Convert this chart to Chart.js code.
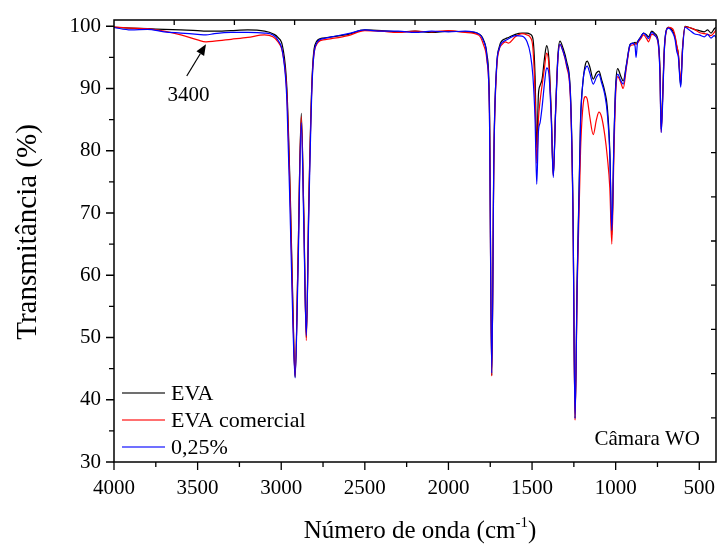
<!DOCTYPE html>
<html>
<head>
<meta charset="utf-8">
<script src="https://cdn.jsdelivr.net/npm/chart.js@4.4.1/dist/chart.umd.min.js"></script>
<style>
  html, body { margin: 0; padding: 0; background: #ffffff; }
  #wrap { width: 718px; height: 549px; }
</style>
</head>
<body>
<div id="wrap"><canvas id="c" width="718" height="549"></canvas></div>
<script>
// FTIR spectra: wavenumber (cm-1) and transmittance (%) for each sample
const wavenumbers = [
  4000, 3900, 3800, 3700, 3600, 3500, 3450, 3400, 3300, 3200, 3100, 3050, 3020, 2990, 2966,
  2945, 2930, 2917, 2900, 2880, 2865, 2850, 2835, 2815, 2790, 2750, 2700, 2600, 2500, 2400,
  2300, 2200, 2100, 2000, 1900, 1820, 1790, 1770, 1755, 1741, 1728, 1712, 1695, 1682, 1660,
  1640, 1600, 1560, 1530, 1510, 1495, 1482, 1472, 1462, 1452, 1440, 1425, 1413, 1400, 1385,
  1373, 1360, 1345, 1333, 1315, 1293, 1270, 1255, 1243, 1230, 1210, 1194, 1180, 1170, 1155,
  1134, 1115, 1100, 1085, 1065, 1050, 1035, 1023, 1010, 1000, 988, 970, 955, 935, 914,
  895, 884, 878, 870, 850, 834, 815, 804, 784, 765, 745, 735, 728, 720, 710,
  700, 685, 660, 645, 635, 625, 611, 600, 585, 560, 530, 500, 470, 450, 430,
  410, 400
];

const evaT = [
  99.8, 99.7, 99.6, 99.5, 99.4, 99.3, 99.2, 99.2, 99.3, 99.4, 99.2, 98.8, 98.2, 96.5, 90.0,
  72.0, 55.0, 43.6, 62.0, 86.0, 70.0, 50.0, 72.0, 92.0, 97.5, 98.1, 98.3, 98.7, 99.4, 99.3,
  99.1, 99.2, 99.0, 99.2, 99.1, 98.8, 97.8, 95.5, 88.0, 43.9, 80.0, 93.5, 96.8, 97.6, 98.0,
  98.2, 98.7, 98.9, 98.9, 98.7, 98.0, 92.0, 80.5, 89.0, 90.5, 91.5, 95.0, 96.9, 95.0, 86.0,
  76.0, 86.0, 95.5, 97.6, 96.5, 94.3, 89.0, 70.0, 37.0, 60.0, 85.0, 91.5, 94.0, 94.4, 93.5,
  91.5, 92.5, 92.8, 91.5, 89.5, 87.0, 80.0, 66.5, 82.0, 90.5, 93.2, 92.0, 91.2, 94.0, 97.1,
  97.3, 97.4, 97.2, 97.5, 98.3, 98.9, 98.6, 98.3, 99.2, 98.8, 97.5, 93.0, 83.5, 88.0, 96.0,
  99.0, 99.8, 99.3, 98.2, 96.8, 95.5, 90.5, 96.5, 100.0, 99.8, 99.5, 99.3, 99.1, 99.4, 98.9,
  99.6, 99.8
];

const evaComercialT = [
  99.9, 99.7, 99.6, 99.2, 98.6, 97.8, 97.5, 97.6, 97.9, 98.2, 98.6, 98.3, 97.5, 95.5, 89.0,
  71.0, 54.0, 43.8, 62.0, 85.5, 69.5, 49.5, 71.5, 91.5, 97.0, 97.8, 98.0, 98.5, 99.3, 99.2,
  99.0, 99.2, 99.1, 99.3, 99.0, 98.6, 97.0, 94.5, 86.5, 43.8, 79.0, 93.0, 96.4, 97.0, 97.5,
  97.3, 98.3, 98.8, 98.6, 98.2, 96.5, 89.0, 78.0, 85.0, 88.0, 90.5, 93.5, 95.7, 94.0, 85.5,
  76.0, 85.5, 95.0, 97.1, 96.0, 93.5, 88.0, 69.0, 36.7, 58.0, 80.0, 87.5, 88.7, 88.3, 85.5,
  82.6, 85.0, 86.2, 85.5, 82.5, 79.0, 74.0, 65.0, 80.0, 89.0, 91.9, 91.0, 90.0, 93.5, 96.8,
  97.0, 97.2, 97.1, 97.3, 98.0, 98.6, 98.0, 97.5, 98.7, 98.5, 97.0, 92.5, 83.0, 87.5, 95.5,
  98.8, 99.8, 99.6, 98.5, 97.0, 95.5, 91.3, 96.5, 99.9, 99.8, 99.5, 99.0, 98.8, 98.7, 98.5,
  99.0, 99.4
];

const pct025T = [
  99.8, 99.4, 99.5, 99.1, 98.9, 98.7, 98.6, 98.8, 99.0, 99.0, 98.9, 98.6, 97.8, 95.5, 88.0,
  68.0, 52.0, 43.5, 60.0, 84.5, 68.0, 50.3, 70.0, 91.0, 97.2, 98.0, 98.3, 98.8, 99.4, 99.2,
  99.2, 99.0, 99.2, 99.1, 99.2, 98.8, 97.6, 95.0, 86.0, 44.3, 79.5, 93.5, 96.5, 97.3, 97.7,
  98.0, 98.5, 98.4, 97.5, 95.5, 92.0, 85.0, 74.6, 83.0, 84.5, 87.0, 91.0, 93.3, 92.5, 85.0,
  75.7, 85.5, 95.0, 97.1, 96.0, 93.8, 88.5, 69.5, 37.0, 59.0, 84.5, 91.5, 93.3, 93.6, 92.5,
  90.7, 91.8, 92.3, 91.0, 89.0, 86.0, 79.5, 67.2, 82.0, 90.0, 92.3, 91.3, 90.7, 93.8, 97.0,
  97.3, 96.8, 95.0, 97.2, 98.2, 98.9, 98.4, 98.0, 99.0, 98.5, 97.2, 92.0, 82.9, 87.0, 95.5,
  99.0, 99.7, 99.0, 97.9, 96.0, 95.0, 90.2, 96.0, 99.8, 99.4, 98.8, 98.6, 98.3, 98.7, 98.1,
  98.5, 98.2
];

const seriesLabels = ['EVA', 'EVA comercial', '0,25%'];
const seriesColors = ['#000000', '#ff0000', '#0000ff'];

const xTickValues = [4000, 3500, 3000, 2500, 2000, 1500, 1000, 500];
const yTickValues = [30, 40, 50, 60, 70, 80, 90, 100];

const xAxisTitle = 'Número de onda (cm';
const xAxisTitleSup = '-1';
const yAxisTitle = 'Transmitância (%)';
const peakLabel = '3400';
const cornerNote = 'Câmara WO';

const FONT = "'Liberation Serif', 'Times New Roman', serif";

function toPoints(ys) {
  return wavenumbers.map((w, i) => ({ x: w, y: ys[i] }));
}

// keep the plotting area at a fixed size: no extra room for edge labels
function noEdgePadding(scale) {
  scale.paddingLeft = 0;
  scale.paddingRight = 0;
  scale.paddingTop = 0;
  scale.paddingBottom = 0;
}

// Frame, tick marks, legend, axis titles and the labelled band
const decor = {
  id: 'decor',
  afterDraw(chart) {
    const ctx = chart.ctx;
    const a = chart.chartArea;
    const xs = chart.scales.x;
    const ys = chart.scales.y;
    ctx.save();

    // box around the plotting area
    ctx.strokeStyle = '#000';
    ctx.lineWidth = 1.5;
    ctx.strokeRect(a.left, a.top, a.right - a.left, a.bottom - a.top);

    // bottom axis: major ticks every 500, minor every 250 (outward)
    ctx.lineWidth = 1.3;
    ctx.beginPath();
    for (let v = 500; v <= 4000; v += 250) {
      const px = xs.getPixelForValue(v);
      const len = v % 500 === 0 ? 8 : 5;
      ctx.moveTo(px, a.bottom);
      ctx.lineTo(px, a.bottom + len);
    }
    // left axis: major ticks every 10, minor every 5 (outward)
    for (let v = 30; v <= 100; v += 5) {
      const py = ys.getPixelForValue(v);
      const len = v % 10 === 0 ? 8 : 5;
      ctx.moveTo(a.left, py);
      ctx.lineTo(a.left - len, py);
    }
    // top and right edges: inward ticks at tenths
    for (let k = 1; k < 10; k++) {
      const px = a.left + (a.right - a.left) * k / 10;
      ctx.moveTo(px, a.top);
      ctx.lineTo(px, a.top + 5);
      const py = a.top + (a.bottom - a.top) * k / 10;
      ctx.moveTo(a.right, py);
      ctx.lineTo(a.right - 5, py);
    }
    ctx.stroke();

    // legend in the lower-left corner of the plot
    ctx.font = '22px ' + FONT;
    ctx.textBaseline = 'middle';
    ctx.textAlign = 'left';
    const rowY = [393, 420, 447];
    chart.data.datasets.forEach((ds, i) => {
      ctx.strokeStyle = ds.borderColor;
      ctx.globalAlpha = 0.75;
      ctx.lineWidth = 1.6;
      ctx.beginPath();
      ctx.moveTo(122, rowY[i]);
      ctx.lineTo(165, rowY[i]);
      ctx.stroke();
      ctx.globalAlpha = 1;
      ctx.fillStyle = '#000';
      ctx.fillText(ds.label, 171, rowY[i] + 1);
    });

    // corner note
    ctx.textAlign = 'right';
    ctx.textBaseline = 'alphabetic';
    ctx.font = '21px ' + FONT;
    ctx.fillText(cornerNote, a.right - 16, a.bottom - 17);

    // O-H band label with arrow
    const tipX = xs.getPixelForValue(3450), tipY = ys.getPixelForValue(97.1);
    const tailX = xs.getPixelForValue(3565), tailY = ys.getPixelForValue(92.0);
    ctx.strokeStyle = '#000';
    ctx.fillStyle = '#000';
    ctx.lineWidth = 1.2;
    const ang = Math.atan2(tipY - tailY, tipX - tailX);
    const headLen = 11, headW = 4.5;
    const baseX = tipX - headLen * Math.cos(ang), baseY = tipY - headLen * Math.sin(ang);
    ctx.beginPath();
    ctx.moveTo(tailX, tailY);
    ctx.lineTo(baseX, baseY);
    ctx.stroke();
    ctx.beginPath();
    ctx.moveTo(tipX, tipY);
    ctx.lineTo(baseX + headW * Math.sin(ang), baseY - headW * Math.cos(ang));
    ctx.lineTo(baseX - headW * Math.sin(ang), baseY + headW * Math.cos(ang));
    ctx.closePath();
    ctx.fill();
    ctx.textAlign = 'center';
    ctx.textBaseline = 'middle';
    ctx.font = '21px ' + FONT;
    ctx.fillText(peakLabel, xs.getPixelForValue(3555), ys.getPixelForValue(88.8));

    // x axis title with superscript
    const titleFont = '25px ' + FONT;
    const supFont = '15px ' + FONT;
    ctx.font = titleFont;
    ctx.textBaseline = 'alphabetic';
    ctx.textAlign = 'left';
    const w1 = ctx.measureText(xAxisTitle).width;
    ctx.font = supFont;
    const w2 = ctx.measureText(xAxisTitleSup).width;
    ctx.font = titleFont;
    const w3 = ctx.measureText(')').width;
    const total = w1 + w2 + w3;
    const sx = (a.left + a.right) / 2 + 5 - total / 2;
    const baseY2 = 538;
    ctx.fillText(xAxisTitle, sx, baseY2);
    ctx.font = supFont;
    ctx.fillText(xAxisTitleSup, sx + w1, baseY2 - 11);
    ctx.font = titleFont;
    ctx.fillText(')', sx + w1 + w2, baseY2);

    // y axis title
    ctx.font = '29px ' + FONT;
    ctx.translate(28, 232);
    ctx.rotate(-Math.PI / 2);
    ctx.textAlign = 'center';
    ctx.textBaseline = 'middle';
    ctx.fillText(yAxisTitle, 0, 0);

    ctx.restore();
  }
};

const seriesValues = [evaT, evaComercialT, pct025T];

new Chart(document.getElementById('c'), {
  type: 'line',
  data: {
    datasets: seriesValues.map((vals, i) => ({
      label: seriesLabels[i],
      data: toPoints(vals),
      borderColor: seriesColors[i],
      backgroundColor: seriesColors[i],
      borderWidth: 1.2,
      pointRadius: 0,
      fill: false,
      cubicInterpolationMode: 'monotone',
      order: 3 - i
    }))
  },
  options: {
    responsive: false,
    animation: false,
    devicePixelRatio: 1,
    layout: { autoPadding: false, padding: { top: 20, right: 2, left: 0, bottom: 0 } },
    plugins: {
      legend: { display: false },
      tooltip: { enabled: false }
    },
    scales: {
      x: {
        type: 'linear',
        reverse: true,
        min: 400,
        max: 4000,
        grid: { display: false, drawTicks: false },
        border: { display: false },
        afterFit(scale) { scale.height = 87; noEdgePadding(scale); },
        afterBuildTicks(scale) { scale.ticks = xTickValues.map(v => ({ value: v })); },
        ticks: {
          color: '#000',
          padding: 14,
          maxRotation: 0,
          autoSkip: false,
          font: { family: FONT, size: 21 },
          callback: v => String(v)
        }
      },
      y: {
        type: 'linear',
        min: 30,
        max: 101,
        grid: { display: false, drawTicks: false },
        border: { display: false },
        afterFit(scale) { scale.width = 114; noEdgePadding(scale); },
        afterBuildTicks(scale) { scale.ticks = yTickValues.map(v => ({ value: v })); },
        ticks: {
          color: '#000',
          padding: 13,
          autoSkip: false,
          font: { family: FONT, size: 21 },
          callback: v => String(v)
        }
      }
    }
  },
  plugins: [decor]
});
</script>
</body>
</html>
